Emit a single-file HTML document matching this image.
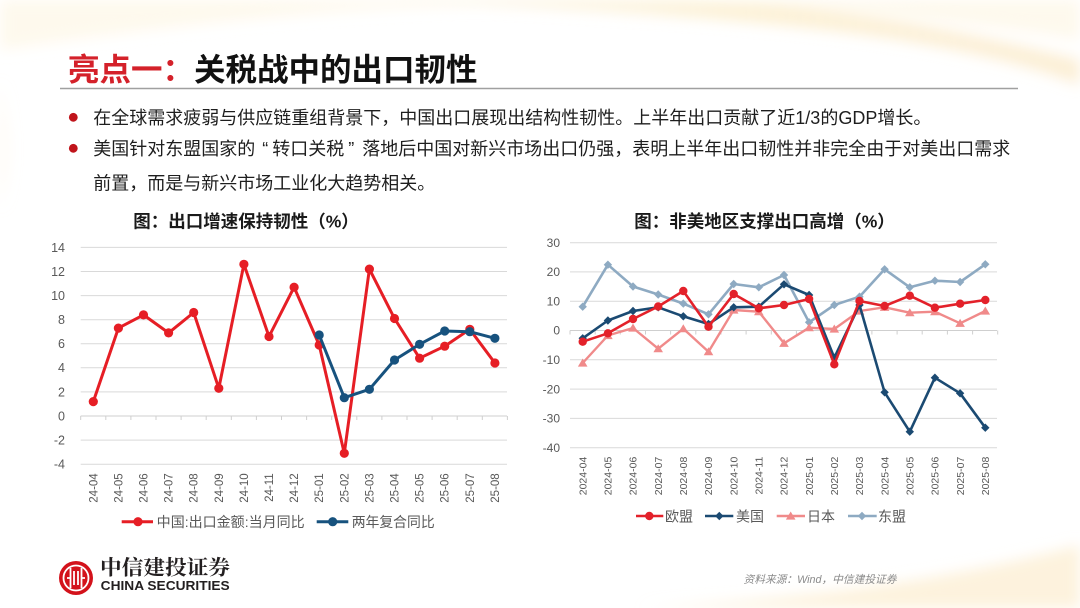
<!DOCTYPE html>
<html>
<head>
<meta charset="utf-8">
<style>
  html,body{margin:0;padding:0;background:#fff;}
  body{width:1080px;height:608px;overflow:hidden;}
  svg{display:block;}
  .cjk{font-family:"Liberation Sans","Noto Sans CJK SC",sans-serif;}
</style>
</head>
<body>
<svg width="1080" height="608" viewBox="0 0 1080 608" xmlns="http://www.w3.org/2000/svg" class="cjk">
  <defs>
    <filter id="blur" x="-20%" y="-50%" width="140%" height="200%"><feGaussianBlur stdDeviation="7"/></filter>
    <linearGradient id="cream" x1="0" y1="0" x2="1" y2="0">
      <stop offset="0" stop-color="#fbf0d6" stop-opacity="0.6"/>
      <stop offset="0.5" stop-color="#fcefcf" stop-opacity="0.85"/>
      <stop offset="1" stop-color="#fbe9c8" stop-opacity="0.75"/>
    </linearGradient>
    <marker id="mRed" markerWidth="12" markerHeight="12" refX="6" refY="6" markerUnits="userSpaceOnUse"><circle cx="6" cy="6" r="4.6" fill="#e61e25"/></marker>
    <marker id="mBlue" markerWidth="12" markerHeight="12" refX="6" refY="6" markerUnits="userSpaceOnUse"><circle cx="6" cy="6" r="4.6" fill="#17527e"/></marker>
    <marker id="mEU" markerWidth="12" markerHeight="12" refX="6" refY="6" markerUnits="userSpaceOnUse"><circle cx="6" cy="6" r="4.2" fill="#e3212a"/></marker>
    <marker id="mUS" markerWidth="12" markerHeight="12" refX="6" refY="6" markerUnits="userSpaceOnUse"><path d="M6 1.8 L10.2 6 L6 10.2 L1.8 6 Z" fill="#1b4a72"/></marker>
    <marker id="mJP" markerWidth="12" markerHeight="12" refX="6" refY="6" markerUnits="userSpaceOnUse"><path d="M6 1.5 L10.8 9.6 L1.2 9.6 Z" fill="#f08a8a"/></marker>
    <marker id="mAS" markerWidth="12" markerHeight="12" refX="6" refY="6" markerUnits="userSpaceOnUse"><path d="M6 1.8 L10.2 6 L6 10.2 L1.8 6 Z" fill="#8eaac2"/></marker>
  </defs>

  <!-- background swooshes -->
  <g filter="url(#blur)">
    <path d="M0,0 L1080,0 L1080,40 C960,20 820,5 640,2 C420,0 200,20 0,50 Z" fill="#fdf6e6" opacity="0.7"/>
    <path d="M380,0 C560,8 760,18 900,40 C990,55 1040,70 1080,85 L1080,60 C1000,40 900,18 780,6 C680,0 560,-2 380,0 Z" fill="url(#cream)"/>
    <path d="M0,80 C8,120 14,160 0,210 Z" fill="#fbf2dc" opacity="0.35"/>
    <path d="M640,608 C780,600 930,585 1080,545 L1080,608 Z" fill="#fcefd4" opacity="0.8"/>
  </g>

  <!-- Title -->
  <text x="68" y="80.5" font-size="31.5" font-weight="bold"><tspan fill="#d4212a">亮点一：</tspan><tspan fill="#111111">关税战中的出口韧性</tspan></text>
  <line x1="60" y1="88.5" x2="1018" y2="88.5" stroke="#a0a0a0" stroke-width="1.4"/>

  <!-- Bullets -->
  <circle cx="73.3" cy="117.3" r="4.4" fill="#c0141b"/>
  <circle cx="73.3" cy="148.3" r="4.4" fill="#c0141b"/>
  <g font-size="18" fill="#1e1e1e">
    <text x="93.3" y="124">在全球需求疲弱与供应链重组背景下，中国出口展现出结构性韧性。上半年出口贡献了近1/3的GDP增长。</text>
    <text x="93.3" y="155">美国针对东盟国家的<tspan dx="7">“</tspan><tspan dx="4">转</tspan>口关<tspan>税</tspan><tspan dx="4">”</tspan><tspan dx="8">落</tspan>地后中国对新兴市场出口仍强，表明上半年出口韧性并非完全由于对美出口需求</text>
    <text x="93.3" y="189.5">前置，而是与新兴市场工业化大趋势相关。</text>
  </g>

  <!-- ============ LEFT CHART ============ -->
  <text x="246" y="227.3" font-size="17.5" font-weight="bold" fill="#1a1a1a" text-anchor="middle">图：出口增速保持韧性（%）</text>
  <g stroke="#d9d9d9" stroke-width="1">
    <line x1="80.7" y1="247.4" x2="507" y2="247.4"/>
    <line x1="80.7" y1="271.5" x2="507" y2="271.5"/>
    <line x1="80.7" y1="295.6" x2="507" y2="295.6"/>
    <line x1="80.7" y1="319.7" x2="507" y2="319.7"/>
    <line x1="80.7" y1="343.8" x2="507" y2="343.8"/>
    <line x1="80.7" y1="367.8" x2="507" y2="367.8"/>
    <line x1="80.7" y1="391.9" x2="507" y2="391.9"/>
    <line x1="80.7" y1="440.1" x2="507" y2="440.1"/>
    <line x1="80.7" y1="464.2" x2="507" y2="464.2"/>
  </g>
  <line x1="80.7" y1="416" x2="507" y2="416" stroke="#cfcfcf" stroke-width="1"/>
  <path d="M80.7 416v4M105.8 416v4M130.9 416v4M156 416v4M181.1 416v4M206.2 416v4M231.3 416v4M256.4 416v4M281.5 416v4M306.6 416v4M331.7 416v4M356.8 416v4M381.9 416v4M407 416v4M432.1 416v4M457.2 416v4M482.3 416v4M507.4 416v4" stroke="#cfcfcf" stroke-width="1"/>
  <g font-size="12.5" fill="#595959" text-anchor="end" font-family="Liberation Sans, sans-serif">
    <text x="65" y="251.8">14</text>
    <text x="65" y="275.9">12</text>
    <text x="65" y="300">10</text>
    <text x="65" y="324.1">8</text>
    <text x="65" y="348.2">6</text>
    <text x="65" y="372.2">4</text>
    <text x="65" y="396.3">2</text>
    <text x="65" y="420.4">0</text>
    <text x="65" y="444.5">-2</text>
    <text x="65" y="468.6">-4</text>
  </g>
  <g font-size="11.5" fill="#595959" text-anchor="end" font-family="Liberation Sans, sans-serif">
    <text transform="translate(93.3,473.3) rotate(-90)" dy="4">24-04</text>
    <text transform="translate(118.4,473.3) rotate(-90)" dy="4">24-05</text>
    <text transform="translate(143.5,473.3) rotate(-90)" dy="4">24-06</text>
    <text transform="translate(168.6,473.3) rotate(-90)" dy="4">24-07</text>
    <text transform="translate(193.7,473.3) rotate(-90)" dy="4">24-08</text>
    <text transform="translate(218.8,473.3) rotate(-90)" dy="4">24-09</text>
    <text transform="translate(243.9,473.3) rotate(-90)" dy="4">24-10</text>
    <text transform="translate(269,473.3) rotate(-90)" dy="4">24-11</text>
    <text transform="translate(294.1,473.3) rotate(-90)" dy="4">24-12</text>
    <text transform="translate(319.2,473.3) rotate(-90)" dy="4">25-01</text>
    <text transform="translate(344.3,473.3) rotate(-90)" dy="4">25-02</text>
    <text transform="translate(369.4,473.3) rotate(-90)" dy="4">25-03</text>
    <text transform="translate(394.5,473.3) rotate(-90)" dy="4">25-04</text>
    <text transform="translate(419.6,473.3) rotate(-90)" dy="4">25-05</text>
    <text transform="translate(444.7,473.3) rotate(-90)" dy="4">25-06</text>
    <text transform="translate(469.8,473.3) rotate(-90)" dy="4">25-07</text>
    <text transform="translate(494.9,473.3) rotate(-90)" dy="4">25-08</text>
  </g>
  <polyline fill="none" stroke="#e61e25" stroke-width="3" stroke-linejoin="round"
    marker-start="url(#mRed)" marker-mid="url(#mRed)" marker-end="url(#mRed)"
    points="93.3,401.6 118.4,328.1 143.5,314.9 168.6,332.9 193.7,312.5 218.8,388.3 243.9,264.3 269,336.5 294.1,287.2 319.2,345 344.3,453.3 369.4,269.1 394.5,318.5 419.6,358.2 444.7,346.2 469.8,329.3 494.9,363"/>
  <polyline fill="none" stroke="#17527e" stroke-width="3" stroke-linejoin="round"
    marker-start="url(#mBlue)" marker-mid="url(#mBlue)" marker-end="url(#mBlue)"
    points="319.2,335 344.3,397.7 369.4,389.3 394.5,360 419.6,344.3 444.7,331 469.8,331.7 494.9,338.3"/>
  <!-- left legend -->
  <line x1="121.7" y1="521.7" x2="153" y2="521.7" stroke="#e61e25" stroke-width="3"/>
  <circle cx="138" cy="521.7" r="4.6" fill="#e61e25"/>
  <text x="156.7" y="527" font-size="14" fill="#595959" textLength="148" lengthAdjust="spacingAndGlyphs">中国:出口金额:当月同比</text>
  <line x1="316.7" y1="521.7" x2="348.3" y2="521.7" stroke="#17527e" stroke-width="3"/>
  <circle cx="332.7" cy="521.7" r="4.6" fill="#17527e"/>
  <text x="351.7" y="527" font-size="14" fill="#595959" textLength="83" lengthAdjust="spacingAndGlyphs">两年复合同比</text>

  <!-- ============ RIGHT CHART ============ -->
  <text x="764.5" y="227.3" font-size="17.5" font-weight="bold" fill="#1a1a1a" text-anchor="middle">图：非美地区支撑出口高增（%）</text>
  <g stroke="#d9d9d9" stroke-width="1">
    <line x1="570" y1="242.7" x2="997" y2="242.7"/>
    <line x1="570" y1="271.9" x2="997" y2="271.9"/>
    <line x1="570" y1="301.2" x2="997" y2="301.2"/>
    <line x1="570" y1="359.8" x2="997" y2="359.8"/>
    <line x1="570" y1="389.1" x2="997" y2="389.1"/>
    <line x1="570" y1="418.4" x2="997" y2="418.4"/>
    <line x1="570" y1="447.7" x2="997" y2="447.7"/>
  </g>
  <line x1="570" y1="330.5" x2="997" y2="330.5" stroke="#cfcfcf" stroke-width="1"/>
  <path d="M570 330.5v4M595.2 330.5v4M620.3 330.5v4M645.5 330.5v4M670.6 330.5v4M695.8 330.5v4M721 330.5v4M746.1 330.5v4M771.3 330.5v4M796.4 330.5v4M821.6 330.5v4M846.8 330.5v4M871.9 330.5v4M897.1 330.5v4M922.2 330.5v4M947.4 330.5v4M972.6 330.5v4M997.7 330.5v4" stroke="#cfcfcf" stroke-width="1"/>
  <g font-size="12" fill="#595959" text-anchor="end" font-family="Liberation Sans, sans-serif">
    <text x="560" y="246.9">30</text>
    <text x="560" y="276.1">20</text>
    <text x="560" y="305.4">10</text>
    <text x="560" y="334.7">0</text>
    <text x="560" y="364">-10</text>
    <text x="560" y="393.3">-20</text>
    <text x="560" y="422.6">-30</text>
    <text x="560" y="451.9">-40</text>
  </g>
  <g font-size="10.5" fill="#595959" text-anchor="end" font-family="Liberation Sans, sans-serif">
    <text transform="translate(582.7,456.7) rotate(-90)" dy="3.7">2024-04</text>
    <text transform="translate(607.9,456.7) rotate(-90)" dy="3.7">2024-05</text>
    <text transform="translate(633,456.7) rotate(-90)" dy="3.7">2024-06</text>
    <text transform="translate(658.2,456.7) rotate(-90)" dy="3.7">2024-07</text>
    <text transform="translate(683.3,456.7) rotate(-90)" dy="3.7">2024-08</text>
    <text transform="translate(708.5,456.7) rotate(-90)" dy="3.7">2024-09</text>
    <text transform="translate(733.7,456.7) rotate(-90)" dy="3.7">2024-10</text>
    <text transform="translate(758.8,456.7) rotate(-90)" dy="3.7">2024-11</text>
    <text transform="translate(784,456.7) rotate(-90)" dy="3.7">2024-12</text>
    <text transform="translate(809.1,456.7) rotate(-90)" dy="3.7">2025-01</text>
    <text transform="translate(834.3,456.7) rotate(-90)" dy="3.7">2025-02</text>
    <text transform="translate(859.5,456.7) rotate(-90)" dy="3.7">2025-03</text>
    <text transform="translate(884.6,456.7) rotate(-90)" dy="3.7">2025-04</text>
    <text transform="translate(909.8,456.7) rotate(-90)" dy="3.7">2025-05</text>
    <text transform="translate(934.9,456.7) rotate(-90)" dy="3.7">2025-06</text>
    <text transform="translate(960.1,456.7) rotate(-90)" dy="3.7">2025-07</text>
    <text transform="translate(985.3,456.7) rotate(-90)" dy="3.7">2025-08</text>
  </g>
  <!-- 东盟 -->
  <polyline fill="none" stroke="#8eaac2" stroke-width="2.6" stroke-linejoin="round"
    marker-start="url(#mAS)" marker-mid="url(#mAS)" marker-end="url(#mAS)"
    points="582.7,306.7 607.9,264.7 633,286.5 658.2,294.5 683.3,303.6 708.5,314.3 733.7,284 758.8,287.3 784,275 809.1,322.3 834.3,305 859.5,296.7 884.6,269.3 909.8,287.3 934.9,280.7 960.1,282 985.3,264.3"/>
  <!-- 日本 -->
  <polyline fill="none" stroke="#f08a8a" stroke-width="2.4" stroke-linejoin="round"
    marker-start="url(#mJP)" marker-mid="url(#mJP)" marker-end="url(#mJP)"
    points="582.7,363 607.9,335.5 633,328 658.2,348.7 683.3,328.7 708.5,351.7 733.7,310 758.8,311.7 784,343.3 809.1,327.7 834.3,329 859.5,311 884.6,307.3 909.8,312.7 934.9,311.7 960.1,323.3 985.3,311"/>
  <!-- 美国 -->
  <polyline fill="none" stroke="#1b4a72" stroke-width="2.6" stroke-linejoin="round"
    marker-start="url(#mUS)" marker-mid="url(#mUS)" marker-end="url(#mUS)"
    points="582.7,338.3 607.9,320.5 633,311 658.2,307.3 683.3,316.3 708.5,324 733.7,307.3 758.8,306.7 784,284.3 809.1,295 834.3,357.7 859.5,305 884.6,392.3 909.8,431.7 934.9,377.7 960.1,393.3 985.3,427.7"/>
  <!-- 欧盟 -->
  <polyline fill="none" stroke="#e3212a" stroke-width="2.6" stroke-linejoin="round"
    marker-start="url(#mEU)" marker-mid="url(#mEU)" marker-end="url(#mEU)"
    points="582.7,341.7 607.9,333.3 633,319 658.2,306.5 683.3,291 708.5,326.7 733.7,294 758.8,308.3 784,305 809.1,299 834.3,364.3 859.5,301 884.6,306 909.8,295.7 934.9,307.7 960.1,303.7 985.3,300"/>
  <!-- right legend -->
  <line x1="636" y1="516" x2="663.3" y2="516" stroke="#e3212a" stroke-width="2.6"/>
  <circle cx="649.3" cy="516" r="4.2" fill="#e3212a"/>
  <text x="665" y="521.3" font-size="14" fill="#595959">欧盟</text>
  <line x1="705" y1="516" x2="733.3" y2="516" stroke="#1b4a72" stroke-width="2.6"/>
  <path d="M719.3 511.8 L723.5 516 L719.3 520.2 L715.1 516 Z" fill="#1b4a72"/>
  <text x="736" y="521.3" font-size="14" fill="#595959">美国</text>
  <line x1="776.7" y1="516" x2="805" y2="516" stroke="#f08a8a" stroke-width="2.4"/>
  <path d="M790.7 511.5 L795.5 519.6 L785.9 519.6 Z" fill="#f08a8a"/>
  <text x="807" y="521.3" font-size="14" fill="#595959">日本</text>
  <line x1="848" y1="516" x2="876.7" y2="516" stroke="#8eaac2" stroke-width="2.6"/>
  <path d="M862 511.8 L866.2 516 L862 520.2 L857.8 516 Z" fill="#8eaac2"/>
  <text x="878" y="521.3" font-size="14" fill="#595959">东盟</text>

  <!-- Logo -->
  <circle cx="76" cy="578" r="17" fill="#d3121b"/>
  <circle cx="76" cy="578" r="12.5" fill="none" stroke="#fff" stroke-width="1.8"/>
  <g stroke="#fff" stroke-width="1.8" fill="none">
    <path d="M70.5 568 V588"/>
    <path d="M81.5 568 V588"/>
    <path d="M74 571 V585"/>
    <path d="M78 571 V585"/>
    <path d="M67 578 H70.5 M81.5 578 H85"/>
  </g>
  <text x="100" y="574.7" font-size="20.5" font-weight="bold" fill="#231f20" font-family="Liberation Serif, Noto Serif CJK SC, serif" textLength="130" lengthAdjust="spacingAndGlyphs">中信建投证券</text>
  <text x="100.7" y="590.2" font-size="12.5" font-weight="bold" fill="#231f20" font-family="Liberation Sans, sans-serif" textLength="129" lengthAdjust="spacingAndGlyphs">CHINA SECURITIES</text>

  <!-- Source -->
  <text x="743.5" y="582.8" font-size="10.8" font-style="italic" fill="#8a8a8a" textLength="153" lengthAdjust="spacingAndGlyphs">资料来源：Wind，中信建投证券</text>
</svg>
</body>
</html>
